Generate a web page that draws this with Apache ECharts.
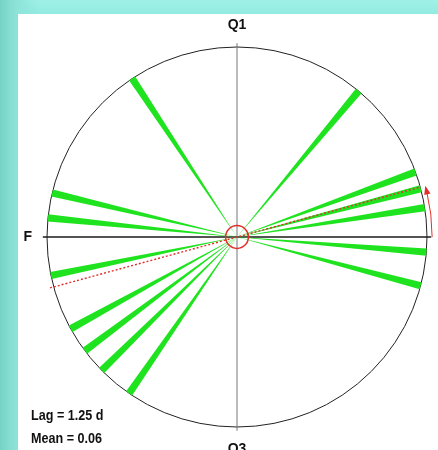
<!DOCTYPE html>
<html>
<head>
<meta charset="utf-8">
<script src="https://cdn.jsdelivr.net/npm/echarts@6/dist/echarts.min.js"></script>
<style>
  html, body { margin: 0; padding: 0; width: 438px; height: 450px; overflow: hidden; }
  body {
    background:
      linear-gradient(90deg, #74d3c6 0px, #86ddd2 10px, #8fe4da 18px, rgba(150,238,228,0) 40px),
      linear-gradient(180deg, #9ff1e8 0px, #93ebe1 14px, #86ddd2 100%);
  }
  #panel { position: absolute; left: 18px; top: 14px; right: 0; bottom: 0; background: #ffffff; }
  #chart { position: absolute; left: 0; top: 0; width: 438px; height: 450px; }
</style>
</head>
<body>
<div id="panel"></div>
<div id="chart"></div>
<script>
// Phase of each event, in degrees counter-clockwise from new moon (right)
const phaseAngles = [123.5, 50.2, 20.0, 14.7, 8.9, 355.4, 345.1, 166.6, 174.2, 191.7, 208.9, 216.8, 224.6, 235.4];
// Quarter labels round the dial
const quarterAngles = [0, 90, 180, 270];
const quarterLabels = ['', 'Q1', 'F', 'Q3'];
// Summary statistics
const lagDays = 1.25;
const meanLength = 0.06;
const synodicMonth = 29.53;

const meanAngle = lagDays / synodicMonth * 360;
const GREEN = '#1fe31f';
const RED = '#e0302c';
const FONT = "'Liberation Sans Narrow', 'Liberation Sans', Arial, sans-serif";

const chart = echarts.init(document.getElementById('chart'), null, { renderer: 'canvas' });

function dist(p, q) { return Math.hypot(p[0] - q[0], p[1] - q[1]); }

const option = {
  backgroundColor: 'transparent',
  animation: false,
  polar: { center: [237, 237], radius: 190 },
  angleAxis: {
    type: 'value', min: 0, max: 360, interval: 90,
    startAngle: 0, clockwise: false,
    axisLine: { show: true, lineStyle: { color: '#222', width: 1 } },
    axisTick: { show: false },
    splitLine: { show: false },
    axisLabel: {
      show: true, margin: 15,
      fontFamily: FONT, fontWeight: 'bold', fontSize: 14, color: '#111',
      formatter: function (v) {
        const i = quarterAngles.indexOf(v);
        return i >= 0 ? quarterLabels[i] : '';
      }
    }
  },
  radiusAxis: {
    type: 'value', min: 0, max: 1,
    axisLine: { show: false }, axisTick: { show: false },
    axisLabel: { show: false }, splitLine: { show: false }
  },
  series: [
    {
      // cross-hair through the centre
      type: 'custom', coordinateSystem: 'polar', clip: false, silent: true,
      data: [[1.022, 0], [1.02, 90]],
      renderItem: function (params, api) {
        const r = api.value(0), a = api.value(1);
        const p1 = api.coord([r, a]);
        const p2 = api.coord([r, a + 180]);
        const horiz = params.dataIndex === 0;
        return {
          type: 'line',
          shape: { x1: p1[0], y1: p1[1], x2: p2[0], y2: p2[1] },
          style: { stroke: horiz ? '#1a1a1a' : '#777', lineWidth: horiz ? 1.6 : 1 }
        };
      }
    },
    {
      // one thin wedge per event
      type: 'custom', coordinateSystem: 'polar', clip: false, silent: true,
      data: phaseAngles.map(a => [1, a]),
      renderItem: function (params, api) {
        const r = api.value(0), a = api.value(1);
        const hw = 1.1;
        return {
          type: 'polygon',
          shape: { points: [api.coord([0, a]), api.coord([r, a - hw]), api.coord([r, a + hw])] },
          style: { fill: GREEN }
        };
      }
    },
    {
      // mean direction and mean vector length
      type: 'custom', coordinateSystem: 'polar', clip: false, silent: true,
      data: [[meanLength, meanAngle]],
      renderItem: function (params, api) {
        const len = api.value(0), a = api.value(1);
        const c = api.coord([0, 0]);
        const p1 = api.coord([1, a]);
        const p2 = api.coord([1.02, a + 180]);
        const rCirc = dist(c, api.coord([len, a]));
        const rArc = dist(c, api.coord([1.027, 0]));
        const rad = a * Math.PI / 180;
        const tip = api.coord([1.027, a]);
        const b1 = api.coord([1.01, a - 2.6]);
        const b2 = api.coord([1.044, a - 2.6]);
        return {
          type: 'group',
          children: [
            { type: 'line', shape: { x1: p2[0], y1: p2[1], x2: p1[0], y2: p1[1] },
              style: { stroke: RED, lineWidth: 1.4, lineDash: [2, 2] } },
            { type: 'circle', shape: { cx: c[0], cy: c[1], r: rCirc },
              style: { fill: 'none', stroke: RED, lineWidth: 1.5 } },
            { type: 'arc', shape: { cx: c[0], cy: c[1], r: rArc, startAngle: -rad + 0.03, endAngle: 0, clockwise: true },
              style: { fill: 'none', stroke: RED, lineWidth: 1 } },
            { type: 'polygon', shape: { points: [tip, b1, b2] },
              style: { fill: RED } }
          ]
        };
      }
    }
  ],
  graphic: [
    { type: 'text', x: 31, y: 408, scaleX: 0.84,
      style: { text: 'Lag = ' + lagDays + ' d', font: 'bold 15px ' + FONT, fill: '#111' } },
    { type: 'text', x: 31, y: 431, scaleX: 0.84,
      style: { text: 'Mean = ' + meanLength.toFixed(2), font: 'bold 15px ' + FONT, fill: '#111' } }
  ]
};

chart.setOption(option);
</script>
</body>
</html>
